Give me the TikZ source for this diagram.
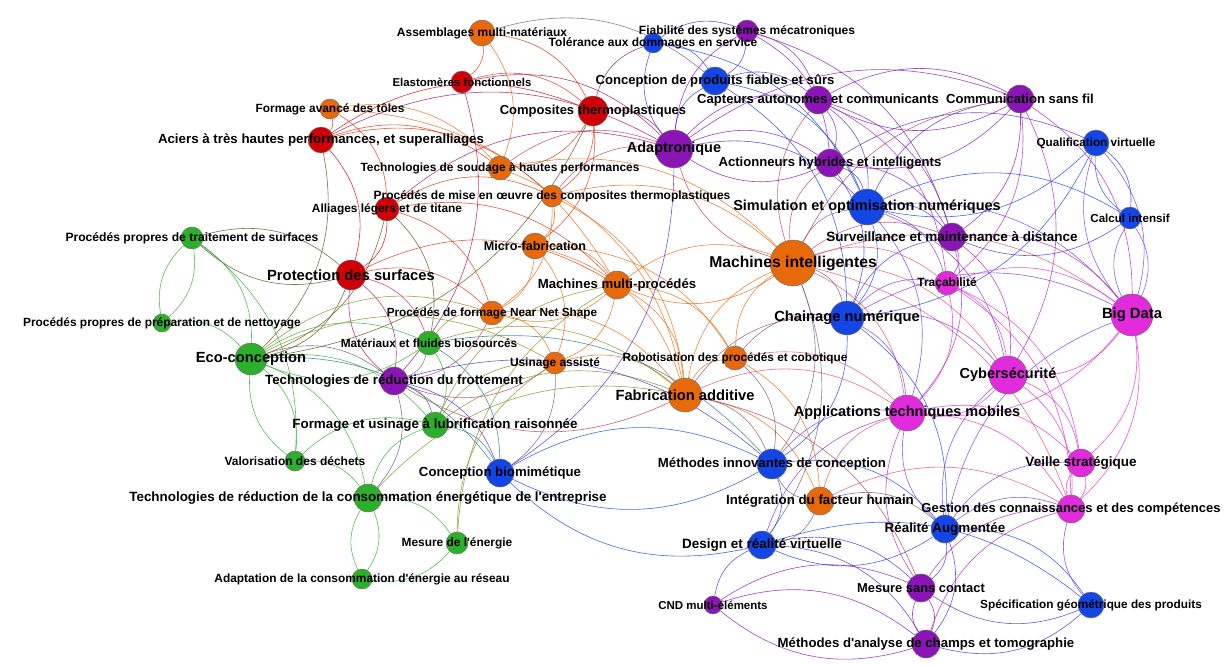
\documentclass[tikz,border=0pt]{standalone}
\usepackage{fontspec}
\setmainfont{Liberation Sans}
\pgfdeclarelayer{edges}
\pgfsetlayers{edges,main}

\definecolor{cOr}{RGB}{232,105,10}
\definecolor{cRd}{RGB}{208,0,8}
\definecolor{cBl}{RGB}{20,70,230}
\definecolor{cPu}{RGB}{138,20,180}
\definecolor{cMg}{RGB}{226,44,220}
\definecolor{cGr}{RGB}{44,176,44}

\newcommand\fsz[1]{\fontsize{#1}{#1}\selectfont\bfseries}
\newcommand\apos{\textquotesingle}

% name/x/y/radius/colour/font size/label
\def\nodelist{
  asm/482/33/13/cOr/12.0/{Assemblages multi-matériaux},
  elast/462/82/11/cRd/11.4/{Elastomères fonctionnels},
  ftol/330/109/10/cOr/11.9/{Formage avancé des tôles},
  acier/321/140/13/cRd/13.3/{Aciers à très hautes performances, et superalliages},
  soud/500/168/12/cOr/11.9/{Technologies de soudage à hautes performances},
  compo/552/196/11/cOr/12.0/{Procédés de mise en œuvre des composites thermoplastiques},
  allia/387/209/12/cRd/11.9/{Alliages légers et de titane},
  ptraite/192/238/11/cGr/12.1/{Procédés propres de traitement de surfaces},
  protec/351/275/15/cRd/14.8/{Protection des surfaces},
  pprep/162/323/9/cGr/11.9/{Procédés propres de préparation et de nettoyage},
  eco/251/359/16/cGr/14.7/{Eco-conception},
  biosrc/429/343/12/cGr/11.8/{Matériaux et fluides biosourcés},
  frott/394/381/14/cPu/13.3/{Technologies de réduction du frottement},
  lubri/435/425/13/cGr/13.4/{Formage et usinage à lubrification raisonnée},
  valor/295/461/10/cGr/12.0/{Valorisation des déchets},
  conso/368/498/14/cGr/13.4/{Technologies de réduction de la consommation énergétique de l\apos entreprise},
  mesen/457/543/11/cGr/11.9/{Mesure de l\apos énergie},
  reseau/362/579/10/cGr/11.9/{Adaptation de la consommation d\apos énergie au réseau},
  biomim/500/473/14/cBl/13.2/{Conception biomimétique},
  usin/555/363/11/cOr/11.9/{Usinage assisté},
  nns/492/313/12/cOr/11.8/{Procédés de formage Near Net Shape},
  micro/535/246/13/cOr/12.6/{Micro-fabrication},
  mmp/617/285/14/cOr/13.2/{Machines multi-procédés},
  cthermo/593/111/15/cRd/13.0/{Composites thermoplastiques},
  adaptron/674/149/19/cPu/14.5/{Adaptronique},
  tolerance/653/43/10/cBl/12.0/{Tolérance aux dommages en service},
  fiab/747/31/11/cPu/12.0/{Fiabilité des systèmes mécatroniques},
  cpfs/715/81/14/cBl/13.1/{Conception de produits fiables et sûrs},
  capt/818/100/14/cPu/13.1/{Capteurs autonomes et communicants},
  comm/1020/99/14/cPu/13.1/{Communication sans fil},
  action/830/163/14/cPu/13.1/{Actionneurs hybrides et intelligents},
  qualif/1096/143/13/cBl/11.7/{Qualification virtuelle},
  simul/867/207/18/cBl/14.5/{Simulation et optimisation numériques},
  calcul/1130/218/11/cBl/11.6/{Calcul intensif},
  surv/952/237/14/cPu/13.5/{Surveillance et maintenance à distance},
  mi/793/263/23/cOr/15.7/{Machines intelligentes},
  trac/947/283/12/cMg/12.0/{Traçabilité},
  bigdata/1132/315/21/cMg/14.8/{Big Data},
  chain/847/318/17/cBl/14.7/{Chainage numérique},
  cyber/1008/375/19/cMg/14.5/{Cybersécurité},
  robot/735/358/12/cOr/11.8/{Robotisation des procédés et cobotique},
  fabadd/685/395/17/cOr/14.7/{Fabrication additive},
  apptm/907/413/18/cMg/14.5/{Applications techniques mobiles},
  mic/772/464/15/cBl/13.2/{Méthodes innovantes de conception},
  veille/1081/463/14/cMg/13.5/{Veille stratégique},
  facteur/820/501/14/cOr/13.3/{Intégration du facteur humain},
  gestion/1071/509/14/cMg/13.0/{Gestion des connaissances et des compétences},
  ra/945/529/14/cBl/13.4/{Réalité Augmentée},
  drv/762/545/14/cBl/13.5/{Design et réalité virtuelle},
  msc/921/588/14/cPu/12.9/{Mesure sans contact},
  sgp/1091/605/13/cBl/11.8/{Spécification géométrique des produits},
  cnd/713/605/9/cPu/11.5/{CND multi-éléments},
  mact/926/644/14/cPu/13.2/{Méthodes d\apos analyse de champs et tomographie}}

\tikzset{
  dot/.style={circle, draw=black!55, line width=0.5pt, inner sep=0pt, minimum size={2*#1}},
  lbl/.style={inner sep=0pt, text=black},
  edge/.style={line width=0.6pt, opacity=0.8, bend left=28},
  edge2/.style={line width=0.6pt, opacity=0.8, bend right=28}
}

\begin{document}
\begin{tikzpicture}[x=1pt, y=-1pt]
  \useasboundingbox (0,0) rectangle (1228,664);

  % nodes
  \foreach \nm/\px/\py/\rad/\col/\sz/\lab in \nodelist
    \node[dot=\rad, fill=\col] (\nm) at (\px,\py) {};

  \begin{pgfonlayer}{edges}
    \fill[white] (0,0) rectangle (1228,664);
    % orange - orange
    \foreach \a/\b in {asm/soud, ftol/soud, soud/mi, soud/fabadd, compo/micro, compo/nns, compo/mi,
        compo/fabadd, micro/nns, micro/mmp, micro/usin, micro/fabadd, micro/robot, mmp/mi, mmp/nns,
        mmp/usin, mmp/fabadd, mmp/robot, nns/usin, nns/fabadd, usin/fabadd, fabadd/mi, fabadd/robot,
        robot/mi, robot/facteur, ftol/mmp, fabadd/facteur}
      \draw[edge, cOr] (\a) to (\b);
    \draw[edge2, cOr] (mmp) to (mi);
    % red and orange
    \foreach \a/\b in {acier/protec, allia/protec, acier/cthermo}
      \draw[edge, cRd] (\a) to (\b);
    \foreach \a/\b in {asm/elast, asm/cthermo, ftol/acier, ftol/allia, acier/soud, acier/compo,
        allia/compo, allia/mmp, allia/nns, cthermo/soud, cthermo/compo, cthermo/micro, protec/mmp,
        protec/nns, elast/cthermo}
      \draw[edge, cOr!50!cRd] (\a) to (\b);
    % red - purple, red - green, red - blue
    \foreach \a/\b in {elast/adaptron, acier/adaptron, allia/adaptron, cthermo/adaptron, protec/frott,
        elast/frott}
      \draw[edge, cRd!50!cPu] (\a) to (\b);
    \draw[edge2, cRd!50!cPu] (protec) to (frott);
    \foreach \a/\b in {protec/ptraite, protec/eco, acier/eco, allia/eco, cthermo/eco, allia/biosrc}
      \draw[edge, cRd!45!cGr!80!black] (\a) to (\b);
    \draw[edge2, cRd!45!cGr!80!black] (protec) to (ptraite);
    \draw[edge, cRd!50!cMg] (protec) to (biosrc);
    \draw[edge, cRd!50!cBl] (cthermo) to (tolerance);
    % orange - blue
    \foreach \a/\b in {asm/cpfs, mi/chain, mi/simul, robot/chain, fabadd/mic, fabadd/chain, mi/mic,
        facteur/mic, facteur/ra, facteur/drv, robot/mic, mi/drv, usin/biomim}
      \draw[edge, cOr!50!cBl] (\a) to (\b);
    % orange - purple
    \foreach \a/\b in {mi/adaptron, mi/surv, mi/action, mi/capt, compo/adaptron, fabadd/frott,
        soud/adaptron, nns/frott, usin/frott, mi/comm, fabadd/msc}
      \draw[edge, cOr!50!cPu] (\a) to (\b);
    % orange - magenta
    \foreach \a/\b in {mi/cyber, mi/apptm, mi/bigdata, mi/trac, fabadd/apptm, facteur/apptm,
        facteur/gestion, robot/apptm, mi/gestion}
      \draw[edge, cOr!50!cMg] (\a) to (\b);
    % orange - green
    \foreach \a/\b in {eco/nns, biosrc/fabadd, lubri/mmp, lubri/usin, lubri/fabadd, mesen/usin,
        eco/usin, biosrc/nns, mesen/mmp, conso/fabadd}
      \draw[edge, cOr!50!cGr] (\a) to (\b);
    % blue - blue
    \foreach \a/\b in {tolerance/cpfs, cpfs/simul, cpfs/chain, qualif/calcul, qualif/simul,
        qualif/chain, simul/chain, simul/calcul, chain/mic, chain/ra, mic/drv, mic/ra, ra/drv, ra/sgp,
        drv/biomim, mic/biomim, drv/sgp, tolerance/simul}
      \draw[edge, cBl] (\a) to (\b);
    \draw[edge2, cBl] (qualif) to (calcul);
    \draw[edge2, cBl] (mic) to (biomim);
    % blue - purple
    \foreach \a/\b in {adaptron/tolerance, adaptron/cpfs, adaptron/simul, adaptron/biomim,
        tolerance/fiab, fiab/cpfs, cpfs/capt, capt/simul, action/simul, action/qualif, action/chain,
        simul/surv, calcul/surv, chain/surv, ra/msc, ra/mact, drv/msc, drv/mact, sgp/msc, sgp/mact,
        frott/biomim, frott/mic, simul/comm, cnd/drv}
      \draw[edge, cBl!50!cPu] (\a) to (\b);
    % blue - magenta
    \foreach \a/\b in {simul/trac, simul/cyber, simul/apptm, simul/bigdata, qualif/bigdata,
        calcul/bigdata, chain/trac, chain/cyber, chain/apptm, chain/bigdata, mic/apptm, ra/apptm,
        ra/gestion, ra/cyber, ra/bigdata, sgp/gestion, drv/apptm, ra/veille}
      \draw[edge, cBl!50!cMg] (\a) to (\b);
    \draw[edge2, cBl!50!cMg] (qualif) to (bigdata);
    \draw[edge2, cBl!50!cMg] (calcul) to (bigdata);
    % purple - purple
    \foreach \a/\b in {adaptron/capt, adaptron/action, adaptron/comm, adaptron/fiab, fiab/capt,
        fiab/surv, fiab/action, capt/comm, capt/action, capt/surv, comm/action, comm/surv,
        action/surv, msc/mact, cnd/mact, cnd/msc}
      \draw[edge, cPu] (\a) to (\b);
    \foreach \a/\b in {adaptron/action, capt/comm, msc/mact, cnd/mact}
      \draw[edge2, cPu] (\a) to (\b);
    % purple - magenta
    \foreach \a/\b in {comm/trac, comm/cyber, surv/trac, surv/bigdata, surv/cyber, surv/apptm,
        capt/trac, msc/apptm, msc/gestion, comm/bigdata, mact/gestion}
      \draw[edge, cPu!50!cMg] (\a) to (\b);
    % magenta - magenta
    \foreach \a/\b in {trac/bigdata, trac/cyber, trac/apptm, trac/veille, trac/gestion,
        bigdata/cyber, bigdata/apptm, bigdata/veille, bigdata/gestion, cyber/apptm, cyber/veille,
        cyber/gestion, apptm/gestion, apptm/veille, veille/gestion}
      \draw[edge, cMg] (\a) to (\b);
    \draw[edge2, cMg] (veille) to (gestion);
    % green - green
    \foreach \a/\b in {ptraite/pprep, ptraite/eco, pprep/eco, eco/valor, eco/conso, eco/biosrc,
        eco/lubri, valor/conso, valor/lubri, conso/reseau, conso/mesen, mesen/reseau, biosrc/lubri,
        conso/lubri, ptraite/valor}
      \draw[edge, cGr] (\a) to (\b);
    \foreach \a/\b in {ptraite/pprep, eco/valor, eco/biosrc, conso/reseau}
      \draw[edge2, cGr] (\a) to (\b);
    % green - purple, green - blue
    \foreach \a/\b in {biosrc/frott, frott/lubri, frott/conso, eco/frott}
      \draw[edge, cGr!50!cPu] (\a) to (\b);
    \foreach \a/\b in {biosrc/mic, biosrc/biomim, lubri/biomim, eco/biomim}
      \draw[edge, cGr!50!cBl] (\a) to (\b);
  \end{pgfonlayer}

  % labels
  \foreach \nm/\px/\py/\rad/\col/\sz/\lab in \nodelist
    \node[lbl, font=\fsz{\sz}] at (\nm) {\lab};
\end{tikzpicture}
\end{document}
